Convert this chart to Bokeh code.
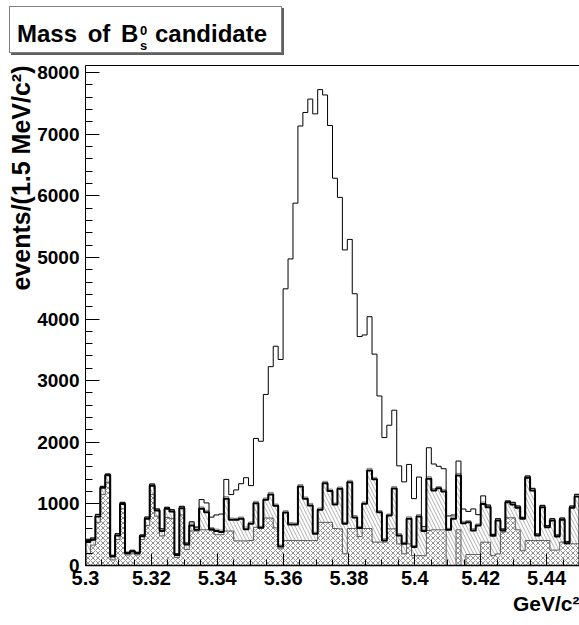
import numpy as np
from bokeh.plotting import figure
from bokeh.layouts import column
from bokeh.models import FixedTicker, CustomJSTickFormatter, Range1d, Title, LinearAxis, Div
from bokeh.embed import file_html
from bokeh.resources import INLINE

# ---------------- data (events per 1.5 MeV/c^2 bin, 5.30 - 5.45 GeV/c^2) ----------------
x_lo, x_hi, n_bins = 5.30, 5.45, 100

# combinatorial background (cross-hatched)
combinatorial = [190, 330, 700, 1150, 1350, 90, 420, 920, 170, 190,
                 170, 420, 650, 1150, 800, 480, 780, 760, 130, 820,
                 260, 560, 560, 580, 580, 570, 500, 500, 560, 560,
                 400, 400, 400, 405, 620, 610, 770, 770, 610, 270,
                 405, 405, 405, 405, 405, 405, 405, 700, 700, 700,
                 600, 595, 190, 600, 600, 470, 600, 600, 380, 380,
                 380, 595, 595, 350, 190, 350, 160, 160, 160, 568,
                 579, 579, 579, 0, 0, 579, 0, 178, 178, 178,
                 379, 379, 160, 189, 541, 774, 774, 579, 240, 406,
                 406, 406, 406, 406, 250, 250, 380, 352, 352, 352]

# total background level (thick line; partially reconstructed stacked on combinatorial)
background = [380, 417, 795, 1260, 1466, 146, 487, 1000, 200, 227,
              200, 476, 757, 1293, 893, 560, 920, 876, 170, 930,
              340, 650, 580, 920, 866, 590, 560, 545, 1082, 741,
              741, 757, 590, 676, 1012, 611, 1066, 1152, 968, 308,
              860, 665, 665, 1282, 1082, 974, 514, 903, 1336, 1210,
              990, 1244, 676, 1352, 780, 610, 1001, 1542, 1400, 866,
              406, 811, 1250, 487, 352, 760, 300, 795, 560, 1406,
              1217, 1255, 1201, 579, 760, 1460, 687, 703, 568, 650,
              1000, 946, 481, 730, 568, 1028, 990, 936, 757, 1423,
              1217, 487, 946, 622, 730, 470, 741, 362, 936, 1120]

# small additional component (thin grey line above the background)
other = [45, 30, 35, 25, 20, 20, 30, 25, 15, 20,
         15, 20, 30, 30, 25, 35, 25, 30, 20, 30,
         25, 40, 35, 30, 30, 25, 30, 30, 35, 30,
         25, 30, 35, 30, 30, 25, 30, 35, 30, 25,
         30, 30, 25, 30, 30, 35, 25, 30, 30, 30,
         25, 30, 25, 30, 30, 25, 30, 35, 30, 25,
         30, 25, 30, 30, 25, 30, 25, 30, 30, 35,
         30, 25, 30, 25, 30, 35, 30, 25, 30, 25,
         30, 35, 25, 30, 25, 20, 35, 30, 25, 30,
         35, 25, 30, 25, 30, 25, 30, 25, 30, 35]

# B_s signal
signal = [0, 0, 0, 0, 0, 0, 0, 0, 0, 0,
          0, 0, 0, 0, 0, 0, 0, 0, 0, 0,
          0, 20, 10, 120, 120, 170, 230, 260, 280, 380,
          460, 540, 800, 590, 1020, 1380, 1680, 2040, 2560, 3010,
          3600, 4280, 5190, 5820, 6240, 6560, 6790, 6790, 6270, 5900,
          5270, 4700, 4420, 3910, 3600, 3080, 2710, 2460, 2000, 1860,
          1640, 1440, 1240, 1100, 980, 850, 760, 610, 40, 470,
          400, 330, 340, 200, 30, 200, 200, 150, 320, 150,
          100, 0, 0, 0, 0, 0, 0, 0, 0, 0,
          0, 0, 0, 0, 0, 0, 0, 0, 0, 0]

x_ticks = [5.30, 5.32, 5.34, 5.36, 5.38, 5.40, 5.42, 5.44]
y_ticks = [0, 1000, 2000, 3000, 4000, 5000, 6000, 7000, 8000]

# ---------------- derived levels ----------------
edges = np.linspace(x_lo, x_hi, n_bins + 1)
lvl_comb = np.array(combinatorial, dtype=float)
lvl_bkg = np.array(background, dtype=float)
lvl_other = lvl_bkg + np.array(other, dtype=float)
lvl_total = lvl_other + np.array(signal, dtype=float)


def step_xy(vals):
    xs = np.repeat(edges, 2)
    ys = np.concatenate([[0.0], np.repeat(vals, 2), [0.0]])
    return xs, ys


FONT = "Liberation Sans"
W = 579
HEAD = 60

# ---------------- title box ----------------
def txt(s, left, top, size, lh, extra=""):
    return (f'<div style="position:absolute;left:{left}px;top:{top}px;'
            f'font-family:\'{FONT}\';font-weight:bold;font-size:{size}px;'
            f'line-height:{lh}px;color:#000;white-space:nowrap;{extra}">{s}</div>')

title_html = (
    f'<div style="position:relative;width:{W}px;height:{HEAD}px;margin:0;padding:0;">'
    '<div style="position:absolute;left:9px;top:6px;width:273px;height:47px;'
    'border:1px solid #808080;box-shadow:2px 2px 0 #606060;background:#ffffff;"></div>'
    + txt("Mass of B", 17, 22, 24, 24, "word-spacing:4px;")
    + txt("0", 140, 24, 13, 13)
    + txt("s", 140, 39, 13, 13)
    + txt("candidate", 155, 22, 24, 24)
    + '</div>'
)
head = Div(text=title_html, width=W, height=HEAD, margin=(0, 0, 0, 0))

# ---------------- histogram ----------------
p = figure(width=W, height=625 - HEAD, output_backend="svg", toolbar_location=None,
           x_range=Range1d(x_lo, x_hi), y_range=Range1d(0, 8114),
           min_border_left=85, min_border_right=0, min_border_top=65 - HEAD,
           min_border_bottom=60,
           background_fill_color="white", border_fill_color="white")
p.xgrid.visible = False
p.ygrid.visible = False
p.outline_line_color = None

# hatched fills
p.quad(left=edges[:-1], right=edges[1:], bottom=0, top=lvl_comb,
       fill_color=None, line_color=None,
       hatch_pattern="x", hatch_color="#606060", hatch_scale=5, hatch_weight=0.7)
p.quad(left=edges[:-1], right=edges[1:], bottom=lvl_comb, top=lvl_bkg,
       fill_color=None, line_color=None,
       hatch_pattern="\\", hatch_color="#8c8c8c", hatch_scale=7, hatch_weight=0.7)

xs, ys = step_xy(lvl_comb)
p.line(xs, ys, line_color="#5a5a5a", line_width=1)
xs, ys = step_xy(lvl_other)
p.line(xs, ys, line_color="#808080", line_width=1)
xs, ys = step_xy(lvl_bkg)
p.line(xs, ys, line_color="black", line_width=2)
xs, ys = step_xy(lvl_total)
p.line(xs, ys, line_color="black", line_width=1)

# axes
for ax in (p.xaxis[0], p.yaxis[0]):
    ax.major_label_text_font = FONT
    ax.major_label_text_font_style = "bold"
    ax.major_label_text_color = "black"
    ax.axis_line_color = "black"
    ax.major_tick_line_color = "black"
    ax.minor_tick_line_color = "black"
    ax.major_tick_out = 0
    ax.minor_tick_out = 0

p.xaxis.ticker = FixedTicker(ticks=x_ticks,
                             minor_ticks=list(np.round(np.arange(x_lo, x_hi + 1e-9, 0.005), 3)))
p.xaxis.formatter = CustomJSTickFormatter(code="return tick.toFixed(2).replace(/0$/, '');")
p.xaxis.major_label_text_font_size = "20px"
p.xaxis.major_tick_in = 12
p.xaxis.minor_tick_in = 6
p.xaxis.axis_line_width = 1.5
p.xaxis.major_label_standoff = 5

p.yaxis.ticker = FixedTicker(ticks=y_ticks, minor_ticks=list(range(0, 8101, 200)))
p.yaxis.major_label_text_font_size = "19px"
p.yaxis.major_tick_in = 14
p.yaxis.minor_tick_in = 7
p.yaxis.major_label_standoff = 6

# top frame edge
top_ax = LinearAxis(axis_line_color="black", axis_line_width=1,
                    major_tick_in=0, major_tick_out=0, minor_tick_in=0, minor_tick_out=0,
                    major_label_text_font_size="0px", major_label_standoff=0,
                    ticker=FixedTicker(ticks=[]))
p.add_layout(top_ax, "above")

# axis titles (ROOT style: right-aligned)
p.add_layout(Title(text="events/(1.5 MeV/c²)", align="right", text_font=FONT,
                   text_font_style="bold", text_font_size="25px", text_color="black",
                   standoff=0, offset=0), "left")
p.add_layout(Title(text="GeV/c²", align="right", text_font=FONT,
                   text_font_style="bold", text_font_size="21px", text_color="black",
                   standoff=5, offset=0), "below")

open("out.html", "w").write(file_html(column(head, p, spacing=0), INLINE))
